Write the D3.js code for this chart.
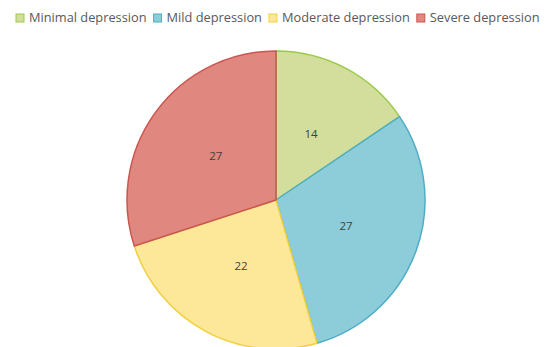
<!DOCTYPE html>
<html>
<head>
<meta charset="utf-8">
<script src="https://cdn.jsdelivr.net/npm/d3@7"></script>
<style>
  html, body { margin: 0; padding: 0; background: #fff; }
  svg { display: block; font-family: "Open Sans", "DejaVu Sans", sans-serif; }
</style>
</head>
<body>
<svg id="chart" width="550" height="347"></svg>
<script>
// Depression severity counts
const categories = ["Minimal depression", "Mild depression", "Moderate depression", "Severe depression"];
const values = [14, 27, 22, 27];
const fillColors = ["#d3de9d", "#8ccdd9", "#fde89a", "#e0877f"];
const strokeColors = ["#9bc94c", "#4dadc7", "#f1cf3f", "#c9564f"];

const svg = d3.select("#chart");

const cx = 276, cy = 200, radius = 149;

const pie = d3.pie().sort(null).value(d => d.value);
const data = categories.map((c, i) => ({ name: c, value: values[i], i }));
const arcs = pie(data);

const arc = d3.arc().innerRadius(0).outerRadius(radius);
const labelArc = d3.arc().innerRadius(radius * 0.5).outerRadius(radius * 0.5);

const g = svg.append("g").attr("transform", `translate(${cx},${cy})`);

g.selectAll("path.slice")
  .data(arcs)
  .join("path")
  .attr("class", "slice")
  .attr("d", arc)
  .attr("fill", d => fillColors[d.data.i])
  .attr("stroke", d => strokeColors[d.data.i])
  .attr("stroke-width", 1.5)
  .attr("stroke-linejoin", "round");

g.selectAll("text.value")
  .data(arcs)
  .join("text")
  .attr("class", "value")
  .attr("transform", d => `translate(${labelArc.centroid(d)})`)
  .attr("text-anchor", "middle")
  .attr("dy", "0.35em")
  .attr("font-size", 11.5)
  .attr("fill", "#404040")
  .text(d => d.data.value);

// Legend across the top
const legend = svg.append("g").attr("class", "legend");
const sw = 8, gapAfterSwatch = 5, gapBetween = 7, legendY = 18, legendX = 16;
const items = legend.selectAll("g.item")
  .data(data)
  .join("g")
  .attr("class", "item");

items.append("rect")
  .attr("width", sw).attr("height", sw)
  .attr("y", legendY - sw / 2)
  .attr("fill", d => fillColors[d.i])
  .attr("stroke", d => strokeColors[d.i])
  .attr("stroke-width", 1);

items.append("text")
  .attr("x", sw + gapAfterSwatch)
  .attr("y", legendY)
  .attr("dy", "0.35em")
  .attr("font-size", 12.8)
  .attr("fill", "#595959")
  .text(d => d.name);

let x = 0;
items.each(function () {
  const w = this.getBBox().width;
  d3.select(this).attr("transform", `translate(${x},0)`);
  x += w + gapBetween;
});
legend.attr("transform", `translate(${legendX},0)`);
</script>
</body>
</html>
